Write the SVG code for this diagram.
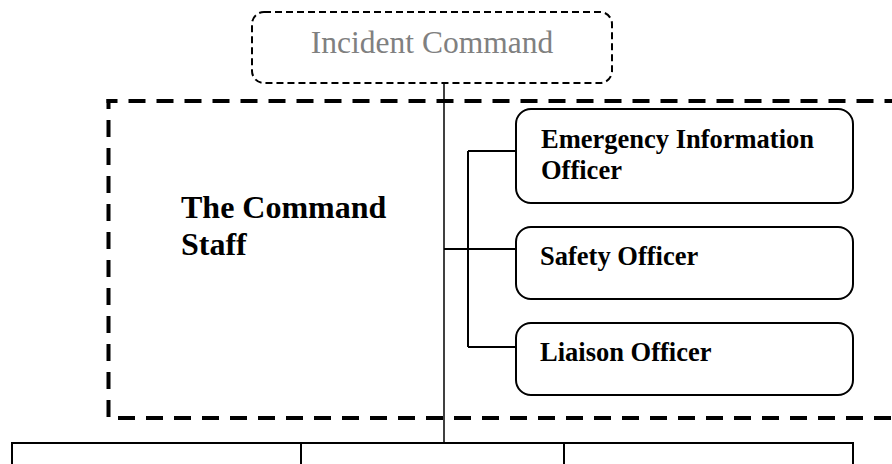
<svg xmlns="http://www.w3.org/2000/svg" width="892" height="464" viewBox="0 0 892 464">
  <style>
    .bg { fill: #ffffff; }
    .box { fill: #ffffff; stroke: #000000; stroke-width: 2; }
    .lead { fill: #ffffff; stroke: #000000; stroke-width: 2; stroke-dasharray: 7 4; }
    .staff { fill: none; stroke: #000000; stroke-width: 4; stroke-dasharray: 17 11; }
    .conn { fill: none; stroke: #000000; stroke-width: 2; }
    .spine { fill: none; stroke: #000000; stroke-width: 1.5; }
    .ic { font-family: "Liberation Serif", "Times New Roman", serif; font-size: 31.5px; fill: #808080; }
    .role { font-family: "Liberation Serif", "Times New Roman", serif; font-size: 26.5px; font-weight: bold; fill: #000000; }
    .title { font-family: "Liberation Serif", "Times New Roman", serif; font-size: 32px; font-weight: bold; fill: #000000; }
  </style>
  <rect class="bg" x="0" y="0" width="892" height="464"/>

  <!-- Command staff grouping frame (open on the right) -->
  <g id="command-staff">
    <line class="staff" x1="106.5" y1="101" x2="900" y2="101" stroke-dashoffset="6"/>
    <line class="staff" x1="108.5" y1="99" x2="108.5" y2="419" stroke-dashoffset="7"/>
    <line class="staff" x1="118" y1="418" x2="900" y2="418" stroke-dasharray="15 13.3"/>
    <text class="title" x="181" y="218">The Command</text>
    <text class="title" x="181" y="255">Staff</text>
  </g>

  <!-- Connectors -->
  <g id="connectors">
    <line class="spine" x1="444" y1="83" x2="444" y2="443"/>
    <line class="conn" x1="444" y1="249" x2="516" y2="249"/>
    <line class="conn" x1="468" y1="151" x2="468" y2="347"/>
    <line class="conn" x1="468" y1="151" x2="516" y2="151"/>
    <line class="conn" x1="468" y1="347" x2="516" y2="347"/>
    <line class="conn" x1="12" y1="443" x2="853" y2="443"/>
  </g>

  <g id="incident-command">
    <rect class="lead" x="252" y="12" width="360" height="71" rx="12" ry="12"/>
    <text class="ic" x="432" y="53" text-anchor="middle">Incident Command</text>
  </g>

  <g id="emergency-information-officer">
    <rect class="box" x="516" y="109" width="337" height="94" rx="15" ry="15"/>
    <text class="role" x="541" y="148">Emergency Information</text>
    <text class="role" x="541" y="179">Officer</text>
  </g>

  <g id="safety-officer">
    <rect class="box" x="516" y="227" width="337" height="72" rx="15" ry="15"/>
    <text class="role" x="540" y="265">Safety Officer</text>
  </g>

  <g id="liaison-officer">
    <rect class="box" x="516" y="323" width="337" height="72" rx="15" ry="15"/>
    <text class="role" x="540" y="361">Liaison Officer</text>
  </g>

  <!-- General staff sections below the frame -->
  <g id="section-1">
    <rect class="box" x="12" y="443" width="289" height="40"/>
  </g>
  <g id="section-2">
    <rect class="box" x="301" y="443" width="263" height="40"/>
  </g>
  <g id="section-3">
    <rect class="box" x="564" y="443" width="289" height="40"/>
  </g>
</svg>
